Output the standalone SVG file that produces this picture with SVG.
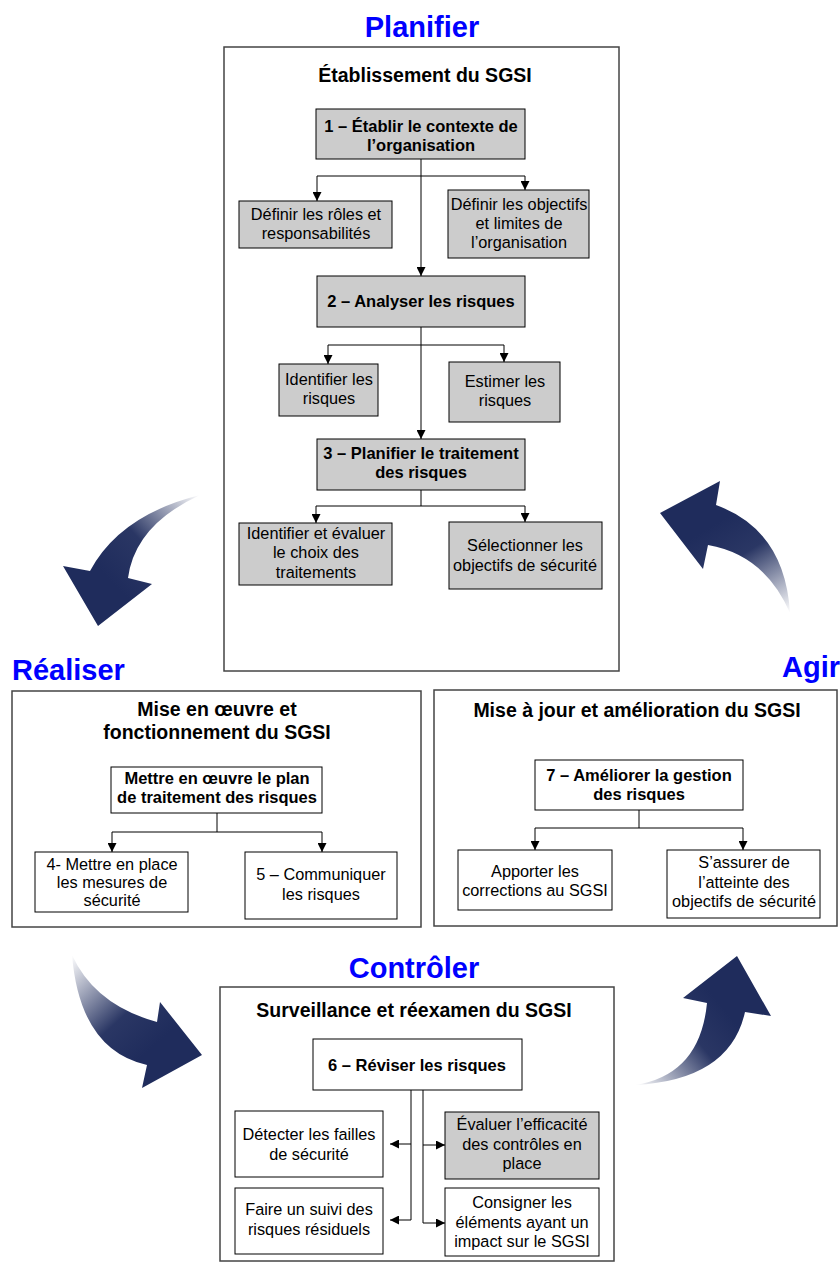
<svg xmlns="http://www.w3.org/2000/svg" width="840" height="1266" viewBox="0 0 840 1266">
<style>
text{font-family:"Liberation Sans",Arial,sans-serif;fill:#000;text-anchor:middle}
.phase{font-size:29px;font-weight:bold;fill:#0000ff}
.sec{font-size:19.5px;font-weight:bold}
.b{font-size:16.5px;font-weight:bold}
.n{font-size:16.3px}
.frame{fill:#fff;stroke:#444;stroke-width:1.5}
.g{fill:#cccccc;stroke:#000;stroke-width:1}
.w{fill:#fff;stroke:#000;stroke-width:1}
.c{fill:none;stroke:#000;stroke-width:1}
</style>
<defs>
<marker id="ah" viewBox="0 0 10 10" refX="10" refY="5" markerWidth="9" markerHeight="9" orient="auto" markerUnits="userSpaceOnUse"><path d="M0,0 L10,5 L0,10 z" fill="#000"/></marker>
<linearGradient id="g1" gradientUnits="userSpaceOnUse" x1="200" y1="495" x2="110" y2="580"><stop offset="0" stop-color="#1f2c5c" stop-opacity="0"/><stop offset="0.6" stop-color="#1f2c5c" stop-opacity="0.95"/><stop offset="1" stop-color="#1f2c5c"/></linearGradient>
<linearGradient id="g2" gradientUnits="userSpaceOnUse" x1="790" y1="613" x2="730" y2="515"><stop offset="0" stop-color="#1f2c5c" stop-opacity="0"/><stop offset="0.65" stop-color="#1f2c5c" stop-opacity="0.95"/><stop offset="1" stop-color="#1f2c5c"/></linearGradient>
<linearGradient id="g3" gradientUnits="userSpaceOnUse" x1="72" y1="955" x2="155" y2="1045"><stop offset="0" stop-color="#1f2c5c" stop-opacity="0"/><stop offset="0.65" stop-color="#1f2c5c" stop-opacity="0.95"/><stop offset="1" stop-color="#1f2c5c"/></linearGradient>
<linearGradient id="g4" gradientUnits="userSpaceOnUse" x1="635" y1="1085" x2="725" y2="1010"><stop offset="0" stop-color="#1f2c5c" stop-opacity="0"/><stop offset="0.65" stop-color="#1f2c5c" stop-opacity="0.95"/><stop offset="1" stop-color="#1f2c5c"/></linearGradient>
</defs>
<rect width="840" height="1266" fill="#fff"/>

<g id="cycle-arrows">
<path d="M200,495 Q120,515 90,571 L63,566 L98,626 L152,584 L128,578 Q135,525 200,495 Z" fill="url(#g1)"/>
<path d="M790,613 Q785,530 716,505 L720,481 L660,513 L703,569 L708,545 Q765,555 790,613 Z" fill="url(#g2)"/>
<path d="M72,955 Q95,1005 157,1022 L160,1002 L202,1055 L142,1088 L147,1065 Q80,1050 72,955 Z" fill="url(#g3)"/>
<path d="M635,1085 Q700,1075 707,1003 L683,998 L737,956 L771,1016 L745,1012 Q730,1080 635,1085 Z" fill="url(#g4)"/>
</g>

<g id="phase-labels">
<text class="phase" x="422" y="37">Planifier</text>
<text class="phase" x="12" y="680" style="text-anchor:start">Réaliser</text>
<text class="phase" x="782" y="677" style="text-anchor:start">Agir</text>
<text class="phase" x="414" y="978">Contrôler</text>
</g>

<g id="frame-planifier"><rect class="frame" x="224" y="47" width="395" height="624"/><text class="sec" x="425" y="82">Établissement du SGSI</text></g>
<g id="frame-realiser"><rect class="frame" x="12" y="691" width="409" height="236"/><text class="sec" x="217" y="716">Mise en œuvre et</text><text class="sec" x="217" y="739">fonctionnement du SGSI</text></g>
<g id="frame-agir"><rect class="frame" x="434" y="690" width="403" height="236"/><text class="sec" x="637" y="717">Mise à jour et amélioration du SGSI</text></g>
<g id="frame-controler"><rect class="frame" x="220" y="987" width="394" height="274"/><text class="sec" x="414" y="1017">Surveillance et réexamen du SGSI</text></g>

<g id="connectors">
<path class="c" d="M421,159 V276" marker-end="url(#ah)"/>
<path class="c" d="M317,176 H525"/>
<path class="c" d="M317,176 V201" marker-end="url(#ah)"/>
<path class="c" d="M525,176 V190" marker-end="url(#ah)"/>
<path class="c" d="M421,327 V439" marker-end="url(#ah)"/>
<path class="c" d="M328,345 H504"/>
<path class="c" d="M328,345 V364" marker-end="url(#ah)"/>
<path class="c" d="M504,345 V362" marker-end="url(#ah)"/>
<path class="c" d="M421,490 V506 M316,506 H525"/>
<path class="c" d="M316,506 V523" marker-end="url(#ah)"/>
<path class="c" d="M525,506 V522" marker-end="url(#ah)"/>
<path class="c" d="M217,813 V832 M112,832 H322"/>
<path class="c" d="M112,832 V852" marker-end="url(#ah)"/>
<path class="c" d="M322,832 V852" marker-end="url(#ah)"/>
<path class="c" d="M639,810 V828 M535,828 H743"/>
<path class="c" d="M535,828 V850" marker-end="url(#ah)"/>
<path class="c" d="M743,828 V850" marker-end="url(#ah)"/>
<path class="c" d="M411,1090 V1220 M423,1090 V1223"/>
<path class="c" d="M411,1144 H390" marker-end="url(#ah)"/>
<path class="c" d="M411,1220 H390" marker-end="url(#ah)"/>
<path class="c" d="M423,1145 H445" marker-end="url(#ah)"/>
<path class="c" d="M423,1223 H445" marker-end="url(#ah)"/>
</g>

<g id="n1"><rect class="g" x="316" y="109" width="209" height="50"/><text class="b" x="421" y="132">1 – Établir le contexte de</text><text class="b" x="421" y="151">l’organisation</text></g>
<g id="n-roles"><rect class="g" x="239" y="201" width="153" height="47"/><text class="n" x="316" y="220">Définir les rôles et</text><text class="n" x="316" y="239">responsabilités</text></g>
<g id="n-objectifs"><rect class="g" x="448" y="190" width="141" height="68"/><text class="n" x="519" y="210">Définir les objectifs</text><text class="n" x="519" y="229">et limites de</text><text class="n" x="519" y="248">l’organisation</text></g>
<g id="n2"><rect class="g" x="317" y="276" width="208" height="51"/><text class="b" x="421" y="307">2 – Analyser les risques</text></g>
<g id="n-identifier"><rect class="g" x="279" y="364" width="99" height="52"/><text class="n" x="329" y="385">Identifier les</text><text class="n" x="329" y="404">risques</text></g>
<g id="n-estimer"><rect class="g" x="449" y="362" width="111" height="60"/><text class="n" x="505" y="387">Estimer les</text><text class="n" x="505" y="406">risques</text></g>
<g id="n3"><rect class="g" x="317" y="439" width="208" height="51"/><text class="b" x="421" y="459">3 – Planifier le traitement</text><text class="b" x="421" y="478">des risques</text></g>
<g id="n-choix"><rect class="g" x="239" y="523" width="153" height="62"/><text class="n" x="316" y="539">Identifier et évaluer</text><text class="n" x="316" y="558">le choix des</text><text class="n" x="316" y="578">traitements</text></g>
<g id="n-selection"><rect class="g" x="449" y="522" width="153" height="67"/><text class="n" x="525" y="551">Sélectionner les</text><text class="n" x="525" y="571">objectifs de sécurité</text></g>

<g id="n-plan"><rect class="w" x="111" y="767" width="211" height="46"/><text class="b" x="217" y="784">Mettre en œuvre le plan</text><text class="b" x="217" y="803">de traitement des risques</text></g>
<g id="n4"><rect class="w" x="35" y="852" width="153" height="60"/><text class="n" x="112" y="870">4- Mettre en place</text><text class="n" x="112" y="888">les mesures de</text><text class="n" x="112" y="906">sécurité</text></g>
<g id="n5"><rect class="w" x="245" y="852" width="152" height="67"/><text class="n" x="321" y="880">5 – Communiquer</text><text class="n" x="321" y="900">les risques</text></g>

<g id="n7"><rect class="w" x="535" y="760" width="208" height="50"/><text class="b" x="639" y="781">7 – Améliorer la gestion</text><text class="b" x="639" y="800">des risques</text></g>
<g id="n-corrections"><rect class="w" x="458" y="850" width="154" height="60"/><text class="n" x="535" y="877">Apporter les</text><text class="n" x="535" y="896">corrections au SGSI</text></g>
<g id="n-atteinte"><rect class="w" x="667" y="850" width="153" height="68"/><text class="n" x="744" y="868">S’assurer de</text><text class="n" x="744" y="888">l’atteinte des</text><text class="n" x="744" y="907">objectifs de sécurité</text></g>

<g id="n6"><rect class="w" x="313" y="1039" width="209" height="51"/><text class="b" x="417" y="1071">6 – Réviser les risques</text></g>
<g id="n-failles"><rect class="w" x="235" y="1111" width="148" height="66"/><text class="n" x="309" y="1140">Détecter les failles</text><text class="n" x="309" y="1160">de sécurité</text></g>
<g id="n-suivi"><rect class="w" x="235" y="1188" width="148" height="66"/><text class="n" x="309" y="1215">Faire un suivi des</text><text class="n" x="309" y="1235">risques résiduels</text></g>
<g id="n-efficacite"><rect class="g" x="445" y="1112" width="154" height="67"/><text class="n" x="522" y="1130">Évaluer l’efficacité</text><text class="n" x="522" y="1150">des contrôles en</text><text class="n" x="522" y="1169">place</text></g>
<g id="n-consigner"><rect class="w" x="445" y="1188" width="154" height="68"/><text class="n" x="522" y="1208">Consigner les</text><text class="n" x="522" y="1228">éléments ayant un</text><text class="n" x="522" y="1247">impact sur le SGSI</text></g>
</svg>
